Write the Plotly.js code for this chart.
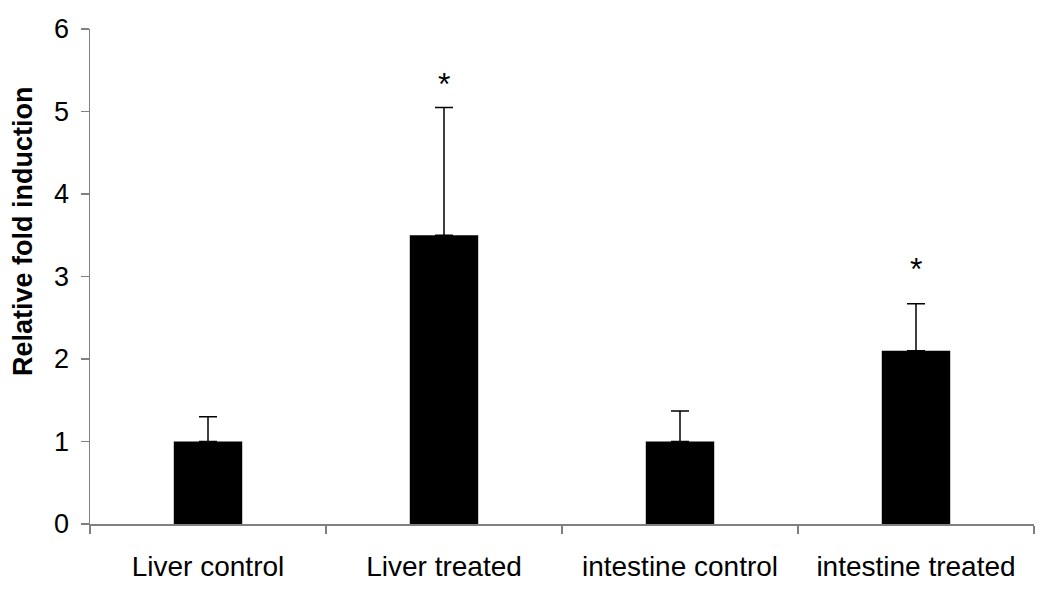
<!DOCTYPE html>
<html>
<head>
<meta charset="utf-8">
<script src="https://cdn.plot.ly/plotly-3.0.1.min.js"></script>
<style>body{margin:0;padding:0;background:#fff}#chart{width:1050px;height:601px}</style>
</head>
<body>
<div id="chart"></div>
<script>
const categories = ["Liver control", "Liver treated", "intestine control", "intestine treated"];
const values = [1.0, 3.5, 1.0, 2.1];
const errorsUp = [0.3, 1.55, 0.37, 0.57];
const significance = ["", "*", "", "*"];
const significanceY = [null, 5.33, null, 3.09];
const yTicks = [0, 1, 2, 3, 4, 5, 6];
const yTitle = "Relative fold induction";

const trace = {
  type: "bar",
  x: categories,
  y: values,
  width: 0.29,
  marker: {color: "#000000", line: {width: 0}},
  error_y: {
    type: "data",
    symmetric: false,
    array: errorsUp,
    arrayminus: values.map(() => 0),
    color: "#000000",
    thickness: 1.5,
    width: 9
  },
  hoverinfo: "none"
};

const annotations = [];
categories.forEach((c, i) => {
  if (significance[i]) {
    annotations.push({
      x: c, y: significanceY[i], xref: "x", yref: "y",
      text: significance[i], showarrow: false,
      font: {family: "Liberation Sans, Arial, sans-serif", size: 32, color: "#000"}
    });
  }
});
annotations.push({
  xref: "paper", yref: "paper", x: -0.071, y: 0.592,
  xanchor: "center", yanchor: "middle",
  text: "<b>" + yTitle + "</b>", textangle: -90, showarrow: false,
  font: {family: "Liberation Sans, Arial, sans-serif", size: 27, color: "#000"}
});

const layout = {
  width: 1050, height: 601,
  margin: {l: 90, r: 16, t: 29, b: 77},
  paper_bgcolor: "#ffffff",
  plot_bgcolor: "#ffffff",
  showlegend: false,
  font: {family: "Liberation Sans, Arial, sans-serif", color: "#000"},
  xaxis: {
    type: "category",
    range: [-0.5, 3.5],
    showgrid: false,
    showline: true,
    linecolor: "#808080",
    linewidth: 1.5,
    ticks: "outside",
    tickson: "boundaries",
    ticklen: 8,
    tickcolor: "#808080",
    tickwidth: 1.5,
    ticklabelstandoff: 17,
    tickfont: {size: 28, color: "#000"},
    zeroline: false
  },
  yaxis: {
    range: [0, 6],
    tickvals: yTicks,
    showgrid: false,
    showline: true,
    linecolor: "#808080",
    linewidth: 1.5,
    ticks: "outside",
    ticklen: 8,
    tickcolor: "#808080",
    tickwidth: 1.5,
    ticklabelstandoff: 6,
    tickfont: {size: 27, color: "#000"},
    zeroline: false
  },
  annotations: annotations
};

Plotly.newPlot("chart", [trace], layout, {displayModeBar: false, staticPlot: true});
</script>
</body>
</html>
